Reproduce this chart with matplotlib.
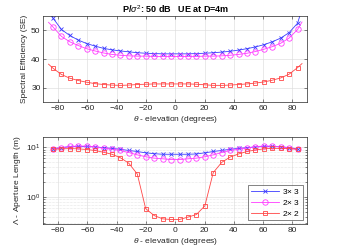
import matplotlib
matplotlib.use("Agg")
import matplotlib.pyplot as plt
from matplotlib.ticker import LogLocator, NullFormatter, FixedLocator

plt.rcParams['font.family'] = ['Liberation Sans', 'DejaVu Sans']
plt.rcParams['mathtext.fontset'] = 'custom'
plt.rcParams['mathtext.rm'] = 'Liberation Sans'
plt.rcParams['mathtext.it'] = 'Liberation Sans:italic'

# marker positions (degrees)
theta = [-83.5, -77.7, -72.0, -66.2, -60.5, -54.7, -48.9, -43.2, -37.4, -31.7,
         -25.9, -20.2, -14.4, -8.6, -2.9, 2.9, 8.6, 14.4, 20.2, 25.9,
         31.7, 37.4, 43.2, 48.9, 54.7, 60.5, 66.2, 72.0, 77.7, 83.5]
# curve end points (line only)
theta_end = [-86.5, 86.5]

# Spectral efficiency
se_3x3 = [54.3, 50.3, 48.2, 46.6, 45.4, 44.5, 43.7, 43.2, 42.8, 42.5,
          42.2, 42.0, 41.9, 41.8, 41.8, 41.8, 41.8, 41.9, 42.0, 42.2,
          42.4, 42.7, 43.1, 43.6, 44.2, 45.0, 46.0, 47.3, 49.2, 52.5]
se_3x3_end = [57.5, 57.5]
se_2x3 = [51.2, 47.9, 46.0, 44.7, 43.6, 42.8, 42.1, 41.6, 41.3, 41.1,
          41.0, 41.0, 40.9, 40.9, 40.9, 40.9, 40.9, 40.9, 41.0, 41.0,
          41.1, 41.3, 41.6, 42.0, 42.6, 43.4, 44.3, 45.5, 47.3, 50.3]
se_2x3_end = [52.8, 52.9]
se_2x2 = [36.8, 34.6, 33.3, 32.5, 31.9, 31.4, 31.1, 30.9, 30.8, 30.9,
          31.1, 31.2, 31.3, 31.3, 31.3, 31.3, 31.3, 31.2, 31.0, 30.8,
          30.8, 30.9, 31.1, 31.3, 31.6, 32.0, 32.6, 33.4, 34.7, 37.0]
se_2x2_end = [38.2, 38.4]

# Aperture length
ap_3x3 = [9.5, 9.9, 10.4, 10.5, 10.5, 10.3, 9.9, 9.6, 9.2, 8.7,
          8.3, 7.8, 7.5, 7.3, 7.3, 7.3, 7.3, 7.4, 7.8, 8.3,
          8.7, 9.2, 9.6, 9.9, 10.3, 10.5, 10.5, 10.4, 9.9, 9.4]
ap_2x3 = [9.4, 9.9, 10.5, 10.7, 10.7, 10.3, 9.6, 9.2, 8.7, 7.9,
          7.1, 6.5, 6.1, 5.9, 5.7, 5.7, 5.9, 6.1, 6.5, 7.1,
          7.9, 8.7, 9.2, 9.7, 10.4, 10.7, 10.7, 10.3, 9.7, 9.2]
ap_2x2 = [9.2, 9.4, 9.5, 9.4, 9.1, 8.7, 8.0, 7.3, 6.2, 4.8,
          2.9, 0.58, 0.42, 0.36, 0.35, 0.35, 0.39, 0.44, 0.66, 3.1,
          5.0, 6.4, 7.4, 8.3, 8.9, 9.4, 9.6, 9.6, 9.5, 9.2]

labels = ['3$\\times$ 3', '2$\\times$ 3', '2$\\times$ 2']
colors = ['#3c3cff', '#ff3cff', '#ff4646']
markers = ['x', 'o', 's']
msizes = [2.6, 3.9, 3.1]

title = 'P/$\\sigma^2$: 50 dB   UE at D=4m'
xlabel = '$\\theta$ - elevation (degrees)'
ylabel_top = 'Spectral Efficiency (SE)'
ylabel_bot = '$\\Lambda$ - Aperture Length (m)'
xticks = [-80, -60, -40, -20, 0, 20, 40, 60, 80]

fig = plt.figure(figsize=(3.39, 2.5), dpi=100)
ax1 = fig.add_axes([0.128, 0.592, 0.778, 0.344])
ax2 = fig.add_axes([0.128, 0.103, 0.778, 0.350])

fs = 6.0
axcol = '#262626'

def style(ax):
    ax.set_xlim(-90, 90)
    ax.xaxis.set_major_locator(FixedLocator(xticks))
    ax.tick_params(direction='in', length=2, width=0.4, labelsize=fs,
                   colors=axcol, pad=2, which='both', top=True, right=True)
    ax.tick_params(which='minor', length=1.2)
    for s in ax.spines.values():
        s.set_linewidth(0.5)
        s.set_color(axcol)
    ax.grid(True, which='major', color='#dcdcdc', linewidth=0.45)
    ax.set_axisbelow(True)
    ax.set_xlabel(xlabel, fontsize=fs, color=axcol, labelpad=1.5)

# top
se_data = [(se_3x3, se_3x3_end), (se_2x3, se_2x3_end), (se_2x2, se_2x2_end)]
for (vals, ends), c, m, ms in zip(se_data, colors, markers, msizes):
    xs = [theta_end[0]] + theta + [theta_end[1]]
    ys = [ends[0]] + vals + [ends[1]]
    ax1.plot(xs, ys, color=c, lw=0.6, marker=m, ms=ms, mfc='none', mew=0.6,
             markevery=list(range(1, len(xs) - 1)))
ax1.set_ylim(25, 55)
ax1.set_yticks([30, 40, 50])
style(ax1)
ax1.set_ylabel(ylabel_top, fontsize=fs, color=axcol, labelpad=2)
ax1.set_title(title, fontsize=fs + 0.5, fontweight='bold', pad=2.5)

# bottom
for vals, c, m, ms, lab in zip([ap_3x3, ap_2x3, ap_2x2], colors, markers, msizes, labels):
    ax2.plot(theta, vals, color=c, lw=0.6, marker=m, ms=ms, mfc='none', mew=0.6,
             label=lab)
ax2.set_yscale('log')
ax2.set_ylim(0.28, 16.5)
ax2.yaxis.set_major_locator(LogLocator(base=10, numticks=5))
ax2.yaxis.set_minor_locator(LogLocator(base=10, subs=range(2, 10), numticks=20))
ax2.yaxis.set_minor_formatter(NullFormatter())
style(ax2)
ax2.grid(True, which='minor', axis='y', color='#d0d0d0', linewidth=0.4, linestyle=(0, (1, 1.5)))
ax2.set_ylabel(ylabel_bot, fontsize=fs, color=axcol, labelpad=2)
leg = ax2.legend(loc='lower right', fontsize=fs, frameon=True, fancybox=False,
                 edgecolor=axcol, borderpad=0.3, labelspacing=0.2,
                 handlelength=3.4, handletextpad=0.4, borderaxespad=0.5)
leg.get_frame().set_linewidth(0.5)

fig.savefig('out.png', dpi=100)
